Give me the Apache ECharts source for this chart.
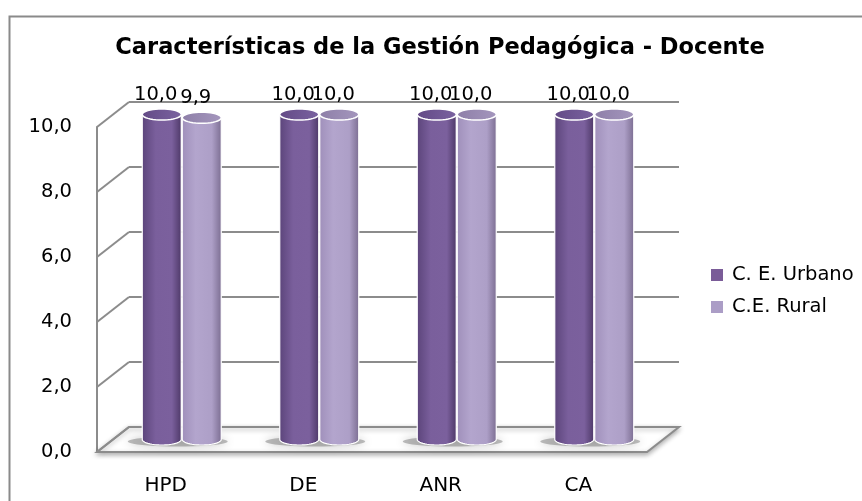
<!DOCTYPE html>
<html>
<head>
<meta charset="utf-8">
<script src="https://cdn.jsdelivr.net/npm/echarts@6/dist/echarts.min.js"></script>
<style>
  html, body { margin: 0; padding: 0; background: #fff; }
  #chart { width: 862px; height: 501px; }
</style>
</head>
<body>
<div id="chart"></div>
<script>
// datos
var categorias = ['HPD', 'DE', 'ANR', 'CA']
var urbano = [10.0, 10.0, 10.0, 10.0]
var rural = [9.9, 10.0, 10.0, 10.0]
var ticksY = [0, 2, 4, 6, 8, 10]
var nombres = ['C. E. Urbano', 'C.E. Rural']

// profundidad del efecto 3D (px)
var DX = 32
var DY = 25
var GRIS = '#8c8c8c'
var FUENTE = '"DejaVu Sans", sans-serif'

function coma(v) {
  return v.toFixed(1).replace('.', ',')
}

function elipse(cx, cy, rx, ry, a0, a1, n) {
  var pts = []
  for (var k = 0; k <= n; k++) {
    var t = a0 + (a1 - a0) * k / n
    pts.push([cx + rx * Math.cos(t), cy + ry * Math.sin(t)])
  }
  return pts
}

var colores = [
  { body: ['#5b447a', '#7a5f9c', '#7b609d', '#4c3766'], top: ['#634a86', '#7a62a0'], legend: '#7a5c98' },
  { body: ['#9f8fba', '#b3a5cd', '#ad9fc7', '#7a6c90'], top: ['#8e7fa8', '#a496bd'], legend: '#ab9dc6' }
]

function cilindro(s, offset) {
  return function(params, api) {
    var i = api.value(0)
    var v = api.value(1)
    var base = api.coord([i, 0])
    var tope = api.coord([i, v])
    var cx = base[0] + offset
    var rx = 19.5
    var ry = 5.5
    var c = colores[s]
    var cuerpo = [[cx - rx, tope[1]]]
      .concat(elipse(cx, base[1], rx, ry, Math.PI, 0, 24))
      .concat([[cx + rx, tope[1]]])
    return {
      type: 'group',
      children: [
        {
          type: 'polygon',
          shape: { points: cuerpo },
          style: {
            fill: new echarts.graphic.LinearGradient(0, 0, 1, 0, [
              { offset: 0, color: c.body[0] },
              { offset: 0.35, color: c.body[1] },
              { offset: 0.75, color: c.body[2] },
              { offset: 1, color: c.body[3] }
            ]),
            stroke: '#fff',
            lineWidth: 1.2
          }
        },
        {
          type: 'polygon',
          shape: { points: elipse(cx, tope[1], rx, ry, 0, Math.PI * 2, 40) },
          style: {
            fill: new echarts.graphic.LinearGradient(0, 0, 1, 0, [
              { offset: 0, color: c.top[0] },
              { offset: 1, color: c.top[1] }
            ]),
            stroke: '#fff',
            lineWidth: 1.5
          }
        },
        {
          type: 'text',
          style: {
            text: coma(v),
            x: cx - 6,
            y: tope[1] - 20,
            fill: '#000',
            font: '19.5px ' + FUENTE,
            align: 'center',
            verticalAlign: 'middle'
          }
        }
      ]
    }
  }
}

var chart = echarts.init(document.getElementById('chart'), null, { renderer: 'canvas' })

chart.setOption({
  animation: false,
  backgroundColor: '#fff',
  title: {
    text: 'Características de la Gestión Pedagógica - Docente',
    left: 440,
    top: 37,
    padding: 0,
    textAlign: 'center',
    textStyle: {
      fontFamily: FUENTE,
      fontWeight: 'bold',
      fontSize: 22.5,
      color: '#000'
    }
  },
  legend: {
    data: nombres,
    orient: 'vertical',
    left: 706,
    top: 260,
    icon: 'rect',
    itemWidth: 12,
    itemHeight: 12,
    itemGap: 12,
    textStyle: {
      fontFamily: FUENTE,
      fontSize: 19.5,
      color: '#000',
      padding: [0, 0, 0, 4]
    }
  },
  graphic: [{
    type: 'rect',
    left: 7,
    top: 14,
    shape: { width: 900, height: 520 },
    style: { fill: 'none', stroke: '#8a8a8a', lineWidth: 2 },
    z: 100
  }],
  grid: [
    // plano frontal
    { left: 97, top: 127, width: 550, height: 325 },
    // plano medio (cilindros)
    { left: 113, top: 114.5, width: 550, height: 325 },
    // pared del fondo
    { left: 97 + DX, top: 127 - DY, width: 550, height: 325 }
  ],
  xAxis: [
    {
      gridIndex: 0,
      type: 'category',
      data: categorias,
      axisLine: { show: false },
      axisTick: { show: false },
      axisLabel: { margin: 24, fontFamily: FUENTE, fontSize: 20, color: '#000' }
    },
    { gridIndex: 1, type: 'category', data: categorias, show: false },
    { gridIndex: 2, type: 'category', data: categorias, show: false }
  ],
  yAxis: [
    {
      gridIndex: 0,
      type: 'value',
      min: 0,
      max: 10,
      interval: 2,
      axisLine: { show: true, lineStyle: { color: GRIS, width: 2 } },
      axisTick: { show: false },
      splitLine: { show: false },
      axisLabel: {
        margin: 25,
        fontFamily: FUENTE,
        fontSize: 19.5,
        color: '#000',
        formatter: function(v) { return coma(v) }
      }
    },
    { gridIndex: 1, type: 'value', min: 0, max: 10, interval: 2, show: false },
    {
      gridIndex: 2,
      type: 'value',
      min: 0,
      max: 10,
      interval: 2,
      axisLine: { show: false },
      axisTick: { show: false },
      axisLabel: { show: false },
      splitLine: { show: true, lineStyle: { color: GRIS, width: 2 } }
    }
  ],
  series: [
    {
      // piso y pared lateral
      type: 'custom',
      name: 'marco',
      xAxisIndex: 0,
      yAxisIndex: 0,
      z: 1,
      silent: true,
      data: ticksY.map(function(v) { return [0, v] }),
      renderItem: function(params, api) {
        var cs = params.coordSys
        var y = api.coord([0, api.value(1)])[1]
        var hijos = []
        if (api.value(1) === 0) {
          hijos.push({
            type: 'polygon',
            shape: { points: [[cs.x, y], [cs.x + cs.width, y], [cs.x + cs.width + DX, y - DY], [cs.x + DX, y - DY]] },
            style: { fill: '#fff', stroke: GRIS, lineWidth: 2, shadowBlur: 5, shadowColor: 'rgba(0,0,0,0.3)', shadowOffsetY: 2 }
          })
        }
        hijos.push({
          type: 'line',
          shape: { x1: cs.x, y1: y, x2: cs.x + DX, y2: y - DY },
          style: { stroke: GRIS, lineWidth: 2 }
        })
        return { type: 'group', children: hijos }
      }
    },
    {
      // sombras sobre el piso
      type: 'custom',
      name: 'sombra',
      xAxisIndex: 1,
      yAxisIndex: 1,
      z: 2,
      silent: true,
      data: categorias.map(function(c, i) { return [i, 0] }),
      renderItem: function(params, api) {
        var p = api.coord([api.value(0), 0])
        return {
          type: 'polygon',
          shape: { points: elipse(p[0] - 4, p[1] + 2, 50, 5, 0, Math.PI * 2, 40) },
          style: { fill: 'rgba(110,110,110,0.45)', shadowBlur: 10, shadowColor: 'rgba(0,0,0,0.5)' }
        }
      }
    },
    {
      type: 'custom',
      name: nombres[0],
      xAxisIndex: 1,
      yAxisIndex: 1,
      z: 5,
      itemStyle: { color: colores[0].legend },
      data: urbano.map(function(v, i) { return [i, v] }),
      renderItem: cilindro(0, -20)
    },
    {
      type: 'custom',
      name: nombres[1],
      xAxisIndex: 1,
      yAxisIndex: 1,
      z: 6,
      itemStyle: { color: colores[1].legend },
      data: rural.map(function(v, i) { return [i, v] }),
      renderItem: cilindro(1, 20)
    }
  ]
})
</script>
</body>
</html>
